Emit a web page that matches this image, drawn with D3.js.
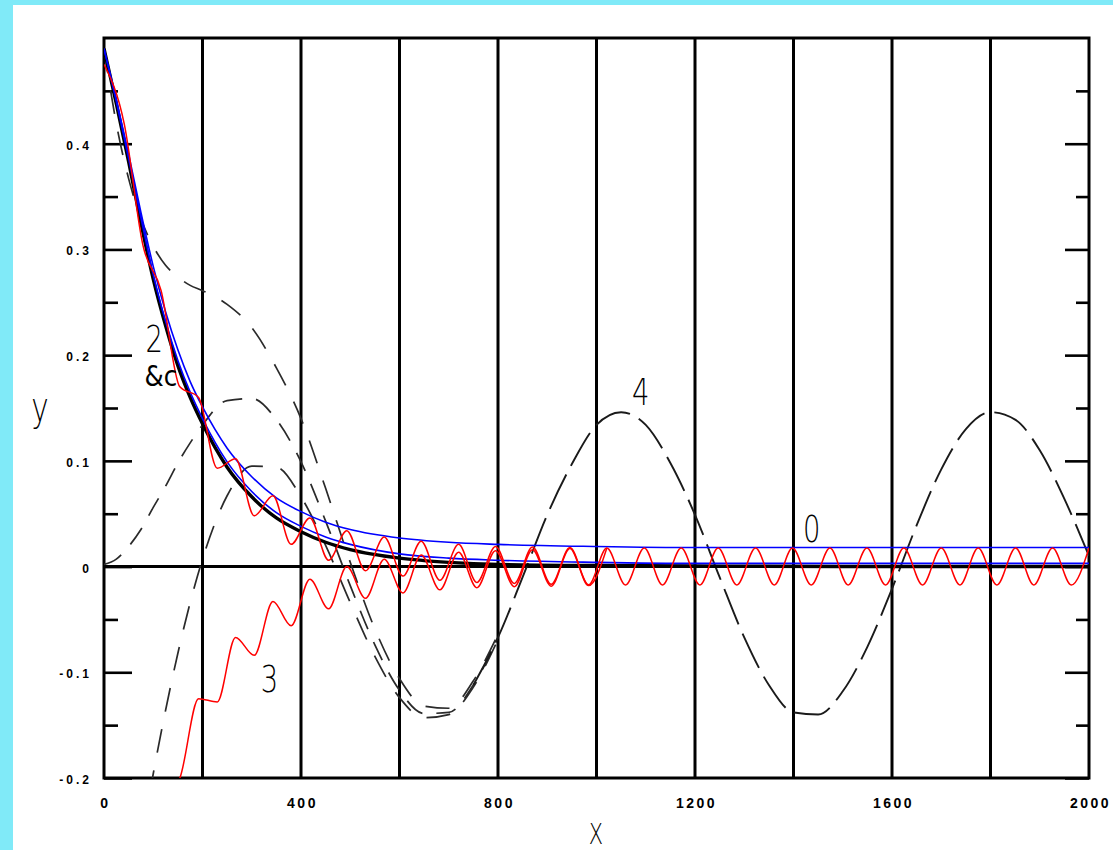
<!DOCTYPE html>
<html>
<head>
<meta charset="utf-8">
<script src="https://cdn.jsdelivr.net/npm/d3@7"></script>
<style>
  html, body { margin: 0; padding: 0; background: #80eaf8; }
  svg { display: block; }
</style>
</head>
<body>
<svg id="chart" width="1113" height="850"></svg>
<script>
// ---- data -------------------------------------------------------------
// smooth decaying curves
const smoothX   = [0, 25, 50, 75, 100, 125, 150, 175, 200, 250, 300, 350, 400, 450, 500, 600, 700, 800, 1000, 1200, 1500, 2000];
const blackY    = [0.490, 0.438, 0.383, 0.325, 0.272, 0.228, 0.190, 0.160, 0.135, 0.094, 0.066, 0.046, 0.033, 0.023, 0.016, 0.008, 0.004, 0.002, 0.001, 0.0005, 0.0, 0.0];
const blueUpY   = [0.490, 0.442, 0.390, 0.335, 0.284, 0.241, 0.205, 0.175, 0.151, 0.112, 0.085, 0.065, 0.052, 0.042, 0.035, 0.027, 0.023, 0.021, 0.019, 0.018, 0.018, 0.018];
const blueLowY  = [0.490, 0.440, 0.386, 0.330, 0.276, 0.232, 0.195, 0.165, 0.140, 0.099, 0.071, 0.051, 0.038, 0.028, 0.021, 0.012, 0.008, 0.006, 0.004, 0.003, 0.003, 0.003];

// oscillating (red) curves, sampled at crests and troughs
const redX      = [0, 41, 79, 116, 154, 192, 230, 267, 305, 343, 380, 418, 456, 493, 531, 569, 607, 644, 682, 720, 757, 795, 833, 870, 908, 946, 984,
                   1021, 1059, 1097, 1134, 1172, 1210, 1247, 1285, 1323, 1361, 1398, 1436, 1474, 1511, 1549, 1587, 1624, 1662, 1700, 1738, 1775, 1813,
                   1851, 1888, 1926, 1964, 2000];
const redUpY    = [0.475, 0.419, 0.304, 0.261, 0.170, 0.160, 0.093, 0.102, 0.048, 0.067, 0.021, 0.046, 0.006, 0.034, -0.004, 0.028, -0.009, 0.024,
                   -0.013, 0.021, -0.015, 0.019, -0.016, 0.0185, -0.0168, 0.018, -0.0172,
                   0.0176, -0.0175, 0.0175, -0.0175, 0.0175, -0.0175, 0.0175, -0.0175, 0.0175, -0.0175, 0.0175, -0.0175, 0.0175, -0.0175, 0.0175,
                   -0.0175, 0.0175, -0.0175, 0.0175, -0.0175, 0.0175, -0.0175, 0.0175, -0.0175, 0.0175, -0.0175, 0.0175];
const red3X     = [116, 154, 192, 230, 267, 305, 343, 380, 418, 456, 493, 531, 569, 607, 644, 682, 720, 757, 795, 833, 870, 908, 946, 984, 1021];
const red3Y     = [-0.221, -0.200, -0.125, -0.128, -0.067, -0.084, -0.033, -0.056, -0.012, -0.040, 0.000, -0.030, 0.007, -0.025, 0.011, -0.022,
                   0.0135, -0.020, 0.015, -0.019, 0.016, -0.0185, 0.017, -0.018, 0.0175];

// dashed curves: three starting branches and the common wave "4"
const dashX     = [0, 25, 50, 75, 100, 125, 150, 175, 200, 250, 300, 350, 400, 450, 500, 550, 600, 650, 700, 750, 800];
const dashTopY  = [0.490, 0.419, 0.367, 0.329, 0.303, 0.285, 0.274, 0.266, 0.261, 0.248, 0.226, 0.188, 0.140, 0.074, 0.004, -0.059, -0.106, -0.132, -0.134, -0.108, -0.064];
const dashMidY  = [0.002, 0.007, 0.019, 0.035, 0.056, 0.076, 0.098, 0.117, 0.134, 0.157, 0.159, 0.139, 0.099, 0.043, -0.018, -0.074, -0.117, -0.139, -0.138, -0.112, -0.067];
const dashLowY  = [-0.490, -0.408, -0.332, -0.262, -0.196, -0.136, -0.082, -0.034, 0.007, 0.067, 0.095, 0.094, 0.066, 0.020, -0.034, -0.085, -0.124, -0.143, -0.140, -0.114, -0.069];
const waveX     = [750, 800, 850, 900, 950, 1000, 1050, 1100, 1150, 1200, 1250, 1300, 1350, 1400, 1450, 1500, 1550, 1600, 1650, 1700, 1750, 1800, 1850, 1900, 1950, 2000];
const waveY     = [-0.112, -0.067, -0.010, 0.049, 0.097, 0.134, 0.146, 0.134, 0.098, 0.049, -0.010, -0.067, -0.112, -0.138, -0.140, -0.118, -0.076, -0.021, 0.039, 0.092, 0.130, 0.146, 0.139, 0.110, 0.064, 0.010];

// axes
const gridX       = [200, 400, 600, 800, 1000, 1200, 1400, 1600, 1800];
const xTickVals   = [0, 400, 800, 1200, 1600, 2000];
const xTickLabels = ["0", "400", "800", "1200", "1600", "2000"];
const yMajor      = [-0.2, -0.1, 0, 0.1, 0.2, 0.3, 0.4];
const yMinor      = [-0.15, -0.05, 0.05, 0.15, 0.25, 0.35, 0.45];
const yTickLabels = ["-0.2", "-0.1", "0", "0.1", "0.2", "0.3", "0.4"];

// curve labels
const curveLabels = [
  { text: "2", x: 102,  y: 0.203 },
  { text: "4", x: 1090, y: 0.153 },
  { text: "0", x: 1437, y: 0.023 },
  { text: "3", x: 336,  y: -0.119 }
];

// ---- drawing ----------------------------------------------------------
const W = 1113, H = 850;
const svg = d3.select("#chart");

svg.append("rect").attr("x", 0).attr("y", 0).attr("width", W).attr("height", H).attr("fill", "#80eaf8");
svg.append("rect").attr("x", 13).attr("y", 5).attr("width", W - 13).attr("height", H - 5).attr("fill", "#ffffff");

const x = d3.scaleLinear().domain([0, 2000]).range([104, 1089]);
const y = d3.scaleLinear().domain([-0.2, 0.5]).range([778, 38]);

svg.append("defs").append("clipPath").attr("id", "plot")
  .append("rect").attr("x", x(0)).attr("y", y(0.5)).attr("width", x(2000) - x(0)).attr("height", y(-0.2) - y(0.5));

// vertical grid lines
svg.append("g").selectAll("line").data(gridX).join("line")
  .attr("x1", d => x(d)).attr("x2", d => x(d))
  .attr("y1", y(0.5)).attr("y2", y(-0.2))
  .attr("stroke", "#000").attr("stroke-width", 3);

// zero line
svg.append("line")
  .attr("x1", x(0)).attr("x2", x(2000)).attr("y1", y(0)).attr("y2", y(0))
  .attr("stroke", "#000").attr("stroke-width", 3);

// inward ticks on left and right
function ticks(axis, tx, size, vals) {
  const g = svg.append("g").attr("transform", `translate(${tx},0)`)
    .call(axis(y).tickValues(vals).tickSize(size).tickFormat(""));
  g.select(".domain").remove();
  g.selectAll(".tick line").attr("stroke", "#000").attr("stroke-width", 2.6);
}
ticks(d3.axisRight, x(0), 28, yMajor);
ticks(d3.axisRight, x(0), 14, yMinor);
ticks(d3.axisLeft, x(2000), 24, yMajor);
ticks(d3.axisLeft, x(2000), 13, yMinor);

// frame
svg.append("rect")
  .attr("x", x(0)).attr("y", y(0.5)).attr("width", x(2000) - x(0)).attr("height", y(-0.2) - y(0.5))
  .attr("fill", "none").attr("stroke", "#000").attr("stroke-width", 3);

// tick labels
svg.append("g").selectAll("text").data(yMajor).join("text")
  .attr("x", 92).attr("y", d => y(d) + 6)
  .attr("text-anchor", "end")
  .attr("font-family", "Liberation Sans, Arial, sans-serif")
  .attr("font-weight", "bold").attr("font-size", 12)
  .style("letter-spacing", "3px")
  .text((d, i) => yTickLabels[i]);

svg.append("g").selectAll("text").data(xTickVals).join("text")
  .attr("x", d => x(d) + 1.5).attr("y", 808)
  .attr("text-anchor", "middle")
  .attr("font-family", "Liberation Sans, Arial, sans-serif")
  .attr("font-weight", "bold").attr("font-size", 14)
  .style("letter-spacing", "2.5px")
  .text((d, i) => xTickLabels[i]);

// thin, horizontally condensed text
function thinText(str, cx, baseline, size, weight, sx) {
  svg.append("text")
    .attr("transform", `translate(${cx},${baseline}) scale(${sx || 0.72},1)`)
    .attr("text-anchor", "middle")
    .attr("font-family", "DejaVu Sans, sans-serif")
    .attr("font-weight", weight || 200)
    .attr("font-size", size)
    .attr("fill", "#000")
    .text(str);
}
thinText("y", 40, 421, 41);
thinText("X", 596, 844, 29);

// curves
const plot = svg.append("g").attr("clip-path", "url(#plot)");
const line = d3.line().x(d => x(d[0])).y(d => y(d[1])).curve(d3.curveMonotoneX);
const pts = (xs, ys) => xs.map((v, i) => [v, ys[i]]);

function drawCurve(xs, ys, color, width, dash) {
  plot.append("path")
    .attr("d", line(pts(xs, ys)))
    .attr("fill", "none")
    .attr("stroke", color)
    .attr("stroke-width", width)
    .attr("stroke-dasharray", dash || null)
    .attr("stroke-linejoin", "round");
}

drawCurve(dashX, dashTopY, "#2a2a2a", 1.7, "24,18");
drawCurve(dashX, dashMidY, "#2a2a2a", 1.7, "20,14");
drawCurve(dashX, dashLowY, "#2a2a2a", 1.7, "24,18");
drawCurve(waveX, waveY,    "#1a1a1a", 1.9, "38,10");

drawCurve(smoothX, blackY,   "#000000", 3.4);
drawCurve(smoothX, blueLowY, "#0000ff", 1.6);
drawCurve(smoothX, blueUpY,  "#0000ff", 1.6);

drawCurve(redX,  redUpY, "#ff0000", 1.5);
drawCurve(red3X, red3Y,  "#ff0000", 1.5);

// curve labels
curveLabels.forEach(l => thinText(l.text, x(l.x), y(l.y), 38));
thinText("&c", 161, 386, 29, 400, 0.85);
</script>
</body>
</html>
